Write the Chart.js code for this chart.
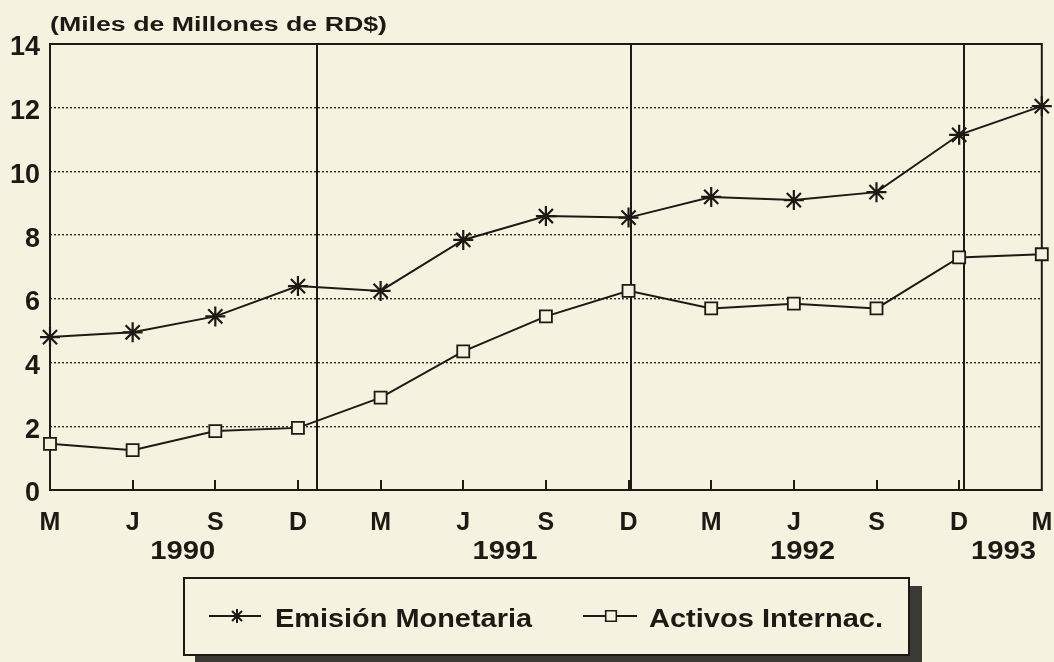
<!DOCTYPE html>
<html>
<head>
<meta charset="utf-8">
<script src="https://cdn.jsdelivr.net/npm/chart.js@4/dist/chart.umd.min.js"></script>
<style>
    html, body { margin: 0; padding: 0; background: #f6f2e0; }
    #wrap { width: 1054px; height: 662px; position: relative; }
</style>
</head>
<body>
<div id="wrap"><canvas id="chart"></canvas></div>
<script>
// Datos (miles de millones de RD$)
const months = ['M', 'J', 'S', 'D', 'M', 'J', 'S', 'D', 'M', 'J', 'S', 'D', 'M'];
const emision = [4.8, 4.95, 5.45, 6.4, 6.25, 7.85, 8.6, 8.55, 9.2, 9.1, 9.35, 11.15, 12.05];
const activos = [1.45, 1.25, 1.85, 1.95, 2.9, 4.35, 5.45, 6.25, 5.7, 5.85, 5.7, 7.3, 7.4];
const years = ['1990', '1991', '1992', '1993'];
const yearAt = [1.6, 5.5, 9.1, 11.53];
const yearDividers = [3.23, 7.03, 11.06];
const seriesNames = ['Emisión Monetaria', 'Activos Internac.'];
const unitsTitle = '(Miles de Millones de RD$)';

const INK = '#1d1a15';
const PAPER = '#f6f2e0';
const FONT = '"Liberation Sans", Arial, sans-serif';

// texto escalado horizontalmente para ocupar un ancho dado
function fitText(ctx, text, x, y, width) {
    const w = ctx.measureText(text).width;
    ctx.save();
    ctx.translate(x, y);
    ctx.scale(width / w, 1);
    ctx.fillText(text, 0, 0);
    ctx.restore();
}

const framePlugin = {
    id: 'frame',
    beforeDatasetsDraw(chart) {
        const { ctx, chartArea: a, scales: { x } } = chart;
        ctx.save();
        ctx.strokeStyle = INK;
        ctx.lineWidth = 2;
        ctx.strokeRect(a.left, a.top, a.right - a.left, a.bottom - a.top);
        // separadores de año
        yearDividers.forEach(v => {
            const px = Math.round(x.getPixelForValue(v));
            ctx.beginPath();
            ctx.moveTo(px, a.top);
            ctx.lineTo(px, a.bottom);
            ctx.stroke();
        });
        // marcas cortas dentro del eje
        months.forEach((m, i) => {
            if (i === 0 || i === months.length - 1) return;
            const px = Math.round(x.getPixelForValue(i));
            ctx.beginPath();
            ctx.moveTo(px, a.bottom);
            ctx.lineTo(px, a.bottom - 10);
            ctx.stroke();
        });
        ctx.restore();
    },
    afterDraw(chart) {
        const { ctx, scales: { x } } = chart;
        ctx.save();
        ctx.fillStyle = INK;
        ctx.textBaseline = 'alphabetic';

        // titulo de unidades
        ctx.font = 'bold 20px ' + FONT;
        fitText(ctx, unitsTitle, 50, 31, 337);

        // años
        ctx.font = 'bold 26px ' + FONT;
        ctx.textAlign = 'left';
        years.forEach((yr, i) => {
            const cx = x.getPixelForValue(yearAt[i]);
            fitText(ctx, yr, cx - 32, 559, 65);
        });

        // leyenda con sombra
        ctx.fillStyle = '#3b3934';
        ctx.fillRect(195, 586, 727, 82);
        ctx.fillStyle = PAPER;
        ctx.fillRect(184, 578, 725, 77);
        ctx.strokeStyle = INK;
        ctx.lineWidth = 2;
        ctx.strokeRect(184, 578, 725, 77);

        ctx.lineWidth = 2;
        ctx.beginPath();
        ctx.moveTo(209, 616);
        ctx.lineTo(261, 616);
        ctx.moveTo(583, 616);
        ctx.lineTo(637, 616);
        ctx.stroke();
        ctx.fillStyle = PAPER;
        Chart.helpers.drawPoint(ctx, { pointStyle: 'star', radius: 7, borderWidth: 2, rotation: 0 }, 237, 616);
        ctx.lineWidth = 1.6;
        Chart.helpers.drawPoint(ctx, { pointStyle: 'rect', radius: 7.5, borderWidth: 1.6, rotation: 0 }, 611, 616);

        ctx.fillStyle = INK;
        ctx.font = 'bold 26px ' + FONT;
        fitText(ctx, seriesNames[0], 275, 627, 257);
        fitText(ctx, seriesNames[1], 649, 627, 234);
        ctx.restore();
    }
};

new Chart(document.getElementById('chart'), {
    type: 'line',
    data: {
        labels: months,
        datasets: [
            {
                label: seriesNames[0],
                data: emision,
                borderColor: INK,
                borderWidth: 2,
                tension: 0,
                fill: false,
                clip: false,
                pointStyle: 'star',
                pointRadius: 10,
                pointBorderWidth: 2.2,
                pointBorderColor: INK,
                pointBackgroundColor: INK
            },
            {
                label: seriesNames[1],
                data: activos,
                borderColor: INK,
                borderWidth: 2,
                tension: 0,
                fill: false,
                clip: false,
                pointStyle: 'rect',
                pointRadius: 8.5,
                pointBorderWidth: 1.8,
                pointBorderColor: INK,
                pointBackgroundColor: PAPER
            }
        ]
    },
    options: {
        responsive: true,
        maintainAspectRatio: false,
        animation: false,
        layout: { padding: { top: 44, right: 11, left: 0, bottom: 0 } },
        plugins: {
            legend: { display: false },
            tooltip: { enabled: false }
        },
        scales: {
            x: {
                type: 'category',
                offset: false,
                grid: { display: false, drawTicks: false },
                border: { display: false },
                ticks: {
                    color: INK,
                    font: { family: FONT, size: 25, weight: 'bold' },
                    padding: 18,
                    maxRotation: 0,
                    autoSkip: false
                },
                afterFit(scale) {
                    scale.height = 172;
                    scale.paddingLeft = 0;
                    scale.paddingRight = 0;
                }
            },
            y: {
                min: 0,
                max: 14,
                grid: {
                    drawTicks: false,
                    lineWidth: 1.4,
                    color: c => (c.tick && (c.tick.value === 0 || c.tick.value === 14)) ? 'rgba(0,0,0,0)' : '#2a2620'
                },
                border: { display: false, dash: [2, 2] },
                ticks: {
                    stepSize: 2,
                    color: INK,
                    font: { family: FONT, size: 27, weight: 'bold' },
                    padding: 10,
                    labelOffset: 4
                },
                afterFit(scale) {
                    scale.width = 50;
                    scale.paddingTop = 0;
                    scale.paddingBottom = 0;
                }
            }
        }
    },
    plugins: [framePlugin]
});
</script>
</body>
</html>
